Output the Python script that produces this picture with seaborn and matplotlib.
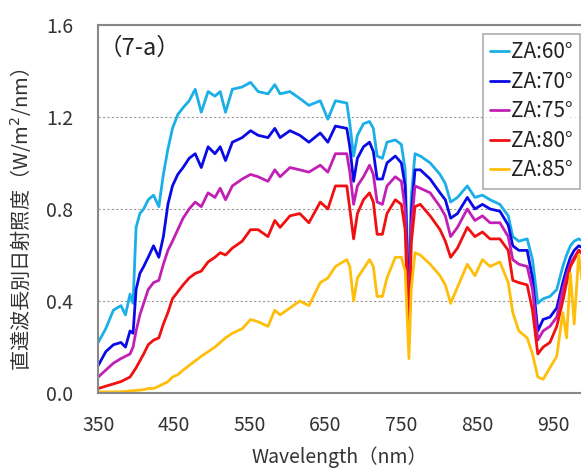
import pandas as pd
import matplotlib.pyplot as plt
import seaborn as sns
from matplotlib.ticker import MultipleLocator

# wavelength grid (nm) and direct spectral irradiance
wavelength = [350, 360, 370, 380, 386, 392, 396, 400, 405, 410, 416, 423, 430, 436, 442, 448, 455, 462, 470, 478,
              486, 495, 504, 511, 518, 527, 540, 551, 561, 574, 583, 590, 603, 616, 628, 643, 653, 663, 678, 682,
              687, 692, 700, 708, 713, 718, 725, 731, 742, 750, 755, 760, 763, 768, 775, 788, 801, 808, 815, 824,
              837, 847, 857, 867, 880, 891, 897, 905, 916, 923, 930, 937, 946, 955, 963, 968, 973, 978, 984, 990]

za60 = [0.22, 0.28, 0.36, 0.38, 0.34, 0.43, 0.39, 0.72, 0.78, 0.80, 0.84, 0.86, 0.81, 0.95, 1.06, 1.15, 1.21, 1.24, 1.27, 1.32,
        1.22, 1.31, 1.29, 1.31, 1.22, 1.32, 1.33, 1.35, 1.31, 1.30, 1.34, 1.30, 1.31, 1.28, 1.25, 1.27, 1.19, 1.27, 1.26, 1.17,
        1.03, 1.12, 1.17, 1.18, 1.15, 1.03, 1.02, 1.09, 1.10, 1.08, 0.97, 0.40, 0.85, 1.04, 1.03, 1.00, 0.95, 0.91, 0.83, 0.85,
        0.90, 0.85, 0.86, 0.84, 0.82, 0.77, 0.68, 0.66, 0.67, 0.58, 0.39, 0.41, 0.42, 0.45, 0.55, 0.60, 0.64, 0.66, 0.67, 0.66]

za70 = [0.12, 0.18, 0.21, 0.22, 0.20, 0.27, 0.26, 0.45, 0.52, 0.55, 0.59, 0.64, 0.59, 0.68, 0.82, 0.90, 0.95, 0.98, 1.02, 1.04,
        0.98, 1.07, 1.04, 1.07, 1.01, 1.09, 1.11, 1.14, 1.12, 1.11, 1.15, 1.11, 1.14, 1.12, 1.09, 1.13, 1.09, 1.16, 1.15, 1.07,
        0.92, 1.02, 1.07, 1.09, 1.05, 0.93, 0.93, 1.00, 1.03, 1.00, 0.90, 0.33, 0.78, 0.97, 0.97, 0.93, 0.87, 0.84, 0.76, 0.78,
        0.85, 0.80, 0.82, 0.80, 0.79, 0.73, 0.64, 0.62, 0.62, 0.50, 0.27, 0.32, 0.33, 0.37, 0.48, 0.54, 0.59, 0.62, 0.64, 0.63]

za75 = [0.07, 0.10, 0.13, 0.15, 0.16, 0.17, 0.20, 0.27, 0.34, 0.39, 0.45, 0.48, 0.49, 0.56, 0.62, 0.66, 0.71, 0.76, 0.80, 0.83,
        0.81, 0.87, 0.85, 0.89, 0.84, 0.90, 0.93, 0.95, 0.94, 0.92, 0.97, 0.94, 0.98, 0.97, 0.96, 0.99, 0.96, 1.04, 1.04, 0.96,
        0.82, 0.90, 0.94, 0.99, 0.95, 0.83, 0.82, 0.90, 0.94, 0.92, 0.80, 0.28, 0.72, 0.90, 0.89, 0.87, 0.81, 0.77, 0.68, 0.72,
        0.80, 0.75, 0.77, 0.74, 0.74, 0.68, 0.58, 0.56, 0.55, 0.45, 0.23, 0.27, 0.29, 0.33, 0.45, 0.51, 0.56, 0.59, 0.62, 0.61]

za80 = [0.02, 0.03, 0.04, 0.05, 0.06, 0.07, 0.09, 0.11, 0.14, 0.17, 0.21, 0.23, 0.24, 0.30, 0.35, 0.41, 0.44, 0.47, 0.50, 0.52,
        0.53, 0.57, 0.59, 0.61, 0.60, 0.63, 0.66, 0.71, 0.71, 0.68, 0.75, 0.72, 0.77, 0.78, 0.74, 0.83, 0.80, 0.90, 0.90, 0.80,
        0.67, 0.78, 0.84, 0.87, 0.83, 0.69, 0.69, 0.78, 0.84, 0.82, 0.71, 0.22, 0.65, 0.81, 0.82, 0.77, 0.71, 0.66, 0.59, 0.63,
        0.72, 0.68, 0.70, 0.67, 0.67, 0.62, 0.49, 0.48, 0.47, 0.36, 0.17, 0.20, 0.22, 0.29, 0.40, 0.48, 0.55, 0.58, 0.62, 0.60]

za85 = [0.005, 0.005, 0.005, 0.006, 0.007, 0.01, 0.01, 0.012, 0.013, 0.015, 0.02, 0.02, 0.03, 0.04, 0.05, 0.07, 0.08, 0.10, 0.12, 0.14,
        0.16, 0.18, 0.20, 0.22, 0.24, 0.26, 0.28, 0.32, 0.31, 0.29, 0.36, 0.34, 0.37, 0.40, 0.38, 0.48, 0.50, 0.55, 0.58, 0.55,
        0.40, 0.50, 0.54, 0.58, 0.55, 0.42, 0.42, 0.50, 0.59, 0.59, 0.53, 0.15, 0.45, 0.61, 0.60, 0.56, 0.51, 0.47, 0.39, 0.46,
        0.56, 0.51, 0.58, 0.55, 0.57, 0.48, 0.35, 0.27, 0.24, 0.17, 0.07, 0.06, 0.11, 0.16, 0.35, 0.24, 0.52, 0.30, 0.60, 0.45]

labels = ["ZA:60°", "ZA:70°", "ZA:75°", "ZA:80°", "ZA:85°"]
colors = ["#1AAFE6", "#0A0AE6", "#C21FB4", "#F01010", "#FFBE0A"]

df = pd.DataFrame({"wl": wavelength})
for lab, vals in zip(labels, [za60, za70, za75, za80, za85]):
    df[lab] = vals
long = df.melt(id_vars="wl", var_name="series", value_name="irr")

sns.set_style("white")
plt.rcParams["font.family"] = ["Noto Sans CJK JP", "DejaVu Sans"]

fig = plt.figure(figsize=(5.81, 4.68), dpi=100)
ax = fig.add_axes([0.169, 0.160, 0.831, 0.787])

sns.lineplot(data=long, x="wl", y="irr", hue="series", hue_order=labels,
             palette=colors, linewidth=2.0, ax=ax)

ax.set_xlim(350, 987)
ax.set_ylim(0, 1.6)
ax.xaxis.set_major_locator(MultipleLocator(100, offset=50))
ax.xaxis.set_minor_locator(MultipleLocator(50))
ax.yaxis.set_major_locator(MultipleLocator(0.4))
ax.yaxis.set_major_formatter(plt.FormatStrFormatter("%.1f"))
ax.tick_params(axis="x", which="both", direction="in", length=5, color="#888888",
               labelsize=14, labelcolor="#333333", pad=16)
ax.tick_params(axis="y", length=0, labelsize=14, labelcolor="#333333", pad=18)

ax.grid(axis="y", linestyle=(0, (2, 2)), color="#999999", linewidth=0.8)
ax.grid(axis="x", visible=False)
for s in ["left", "bottom", "top"]:
    ax.spines[s].set_color("#888888")
    ax.spines[s].set_linewidth(1.5)
ax.spines["right"].set_visible(False)

ax.set_xlabel("Wavelength（nm）", fontsize=14, color="#333333", labelpad=7)
ax.set_ylabel("直達波長別日射照度（W/m$^2$/nm）", fontsize=14.5, color="#333333")
ax.yaxis.set_label_coords(-0.135, 0.47)

ax.text(0.0, 0.968, "（7-a）", transform=ax.transAxes, fontsize=17, color="#222222",
        va="top", ha="left")

leg = ax.legend(loc="upper right", bbox_to_anchor=(0.998, 0.975), fontsize=15, frameon=True,
                fancybox=False, edgecolor="#999999", handlelength=0.9, handletextpad=0.1,
                labelspacing=0.36, borderpad=0.35, borderaxespad=0.0)
leg.get_frame().set_linewidth(1.2)
for t in leg.get_texts():
    t.set_color("#222222")

fig.savefig("out.png", dpi=100)
